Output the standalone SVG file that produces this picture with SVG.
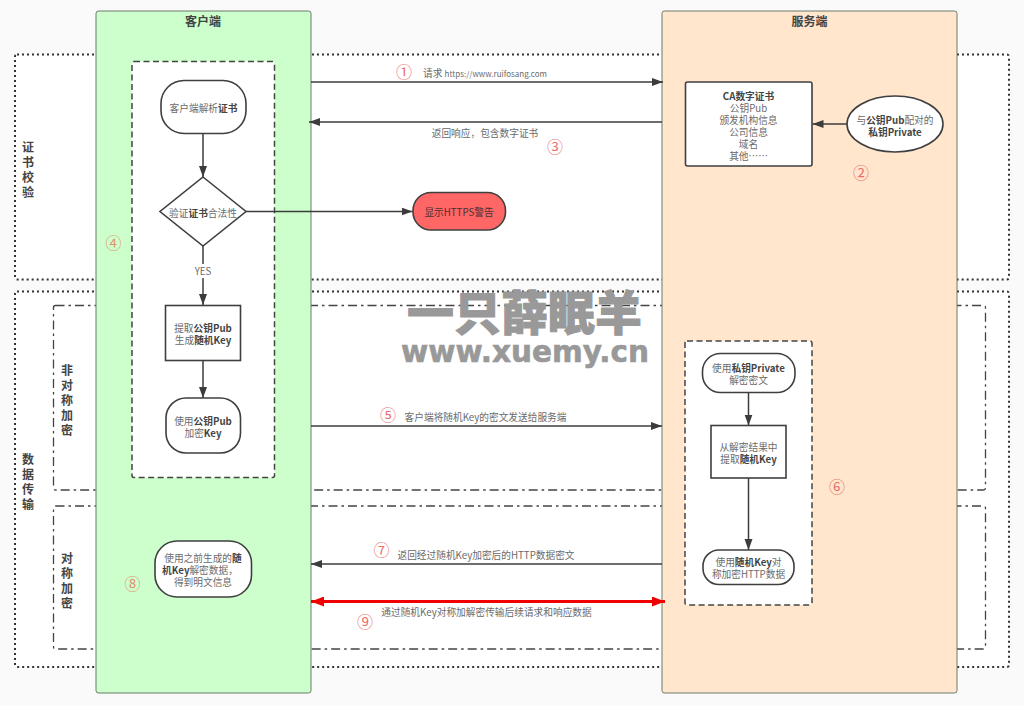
<svg xmlns="http://www.w3.org/2000/svg" width="1024" height="706" viewBox="0 0 1024 706">
<style>
text{font-family:"Noto Sans CJK SC","Noto Sans",sans-serif;font-size:9.7px;fill:#6a6a6a;text-anchor:middle;dominant-baseline:central}
tspan.b,text.b{font-weight:700;fill:#444}
tspan.u{font-size:8px}
text.v{font-size:12px;font-weight:700;fill:#444}
text.t{font-size:12px;font-weight:700;fill:#444}
text.n{font-size:16px;fill:#ea7070}
text.g{fill:#e2906f}
text.d{fill:#4a3030}
.dot{fill:#fff;stroke:#333;stroke-width:2;stroke-dasharray:2 3}
.dd{fill:none;stroke:#444;stroke-width:1.3;stroke-dasharray:9 4 2.5 4}
.lane{stroke:#6d7a6d;stroke-width:1}
.box{fill:#fff;stroke:#3f3f3f;stroke-width:1.6}
.warn{fill:#ff6666}
.dash{fill:#fff;stroke:#444;stroke-width:1.5;stroke-dasharray:6 3.5}
.c{fill:none;stroke:#3c3c3c;stroke-width:1.5;marker-end:url(#a)}
.r{fill:none;stroke:#f00000;stroke-width:3;marker-start:url(#rs);marker-end:url(#re)}
text.w1{font-size:47px;font-weight:900;fill:#999;stroke:#999;stroke-width:1}
text.w2{font-family:"DejaVu Sans",sans-serif;font-size:29.500px;font-weight:700;fill:#999;stroke:#999;stroke-width:.6}
</style>
<defs>
<marker id="a" markerUnits="userSpaceOnUse" markerWidth="12" markerHeight="9" refX="11" refY="4" orient="auto"><path d="M0 0L11 4L0 8z" fill="#3c3c3c"/></marker>
<marker id="re" markerUnits="userSpaceOnUse" markerWidth="14" markerHeight="10" refX="13" refY="5" orient="auto"><path d="M0 0L13 5L0 10z" fill="#f00000"/></marker>
<marker id="rs" markerUnits="userSpaceOnUse" markerWidth="14" markerHeight="10" refX="0" refY="5" orient="auto"><path d="M13 0L0 5L13 10z" fill="#f00000"/></marker>
</defs>
<rect width="1024" height="706" fill="#fafafa"/>
<g id="regions">
<rect class="dot" x="15" y="54.500" width="994" height="225" rx="2"/>
<rect class="dot" x="15" y="291.500" width="994" height="375.500" rx="2"/>
<rect class="dd" x="53.500" y="305.500" width="932" height="184.500" rx="2"/>
<rect class="dd" x="53.500" y="506" width="932" height="143" rx="2"/>
<text class="v" x="28" y="146">证</text><text class="v" x="28" y="161">书</text><text class="v" x="28" y="176">校</text><text class="v" x="28" y="191">验</text>
<text class="v" x="28" y="458">数</text><text class="v" x="28" y="473">据</text><text class="v" x="28" y="488">传</text><text class="v" x="28" y="503">输</text>
<text class="v" x="67" y="369">非</text><text class="v" x="67" y="384">对</text><text class="v" x="67" y="399">称</text><text class="v" x="67" y="414">加</text><text class="v" x="67" y="429">密</text>
<text class="v" x="67" y="557">对</text><text class="v" x="67" y="572">称</text><text class="v" x="67" y="587">加</text><text class="v" x="67" y="602">密</text>
</g>
<g id="lane-client"><rect class="lane" x="96" y="11" width="215" height="682" rx="2.500" fill="#ccffcc"/><text class="t" x="203" y="20">客户端</text></g>
<g id="lane-server"><rect class="lane" x="662" y="11" width="295" height="682" rx="2.500" fill="#ffe6cc" stroke="#7a6a5a"/><text class="t" x="809.500" y="20">服务端</text></g>
<g id="group-client"><rect class="dash" x="132" y="61.500" width="142.500" height="416" rx="2"/></g>
<g id="group-server"><rect class="dash" x="685" y="341" width="127" height="264" rx="2"/></g>
<g id="connectors">
<path class="c" d="M311 82H663"/>
<path class="c" d="M662 122H309"/>
<path class="c" d="M203 133V177"/>
<path class="c" d="M246 211.500H412.500"/>
<path class="c" d="M203 246V305"/>
<path class="c" d="M203 360V398"/>
<path class="c" d="M847 124H812.500"/>
<path class="c" d="M311 426H662"/>
<path class="c" d="M748.500 392.500V425.500"/>
<path class="c" d="M748.500 478V550"/>
<path class="c" d="M662 564H311"/>
<path class="r" d="M311 601.500H665"/>
</g>
<g id="node-parse"><rect class="box" x="161" y="80.500" width="85" height="53" rx="23"/><text x="203.500" y="108">客户端解析<tspan class="b">证书</tspan></text></g>
<g id="node-verify"><path class="box" d="M203 177L246 211.500L203 246L160 211.500z"/><text x="203" y="212.500">验证<tspan class="b">证书</tspan>合法性</text></g>
<g id="label-yes"><rect x="190" y="264" width="26" height="14" fill="#fff"/><text x="203" y="271">YES</text></g>
<g id="node-extract"><rect class="box" x="165.500" y="305.500" width="75" height="55"/><text x="203" y="328">提取<tspan class="b">公钥Pub</tspan></text><text x="203" y="340">生成<tspan class="b">随机Key</tspan></text></g>
<g id="node-encrypt"><rect class="box" x="166" y="398" width="74.500" height="55" rx="20"/><text x="203" y="421">使用<tspan class="b">公钥Pub</tspan></text><text x="203" y="433">加密<tspan class="b">Key</tspan></text></g>
<g id="node-warning"><rect class="box warn" x="413" y="192.500" width="92.500" height="37.500" rx="18" style="fill:#ff6666"/><text class="d" x="459" y="212">显示HTTPS警告</text></g>
<g id="node-cert"><rect class="box" x="685.500" y="82" width="126.500" height="84" rx="2"/><text class="b" x="748.500" y="95.500">CA数字证书</text><text x="748.500" y="107.500">公钥Pub</text><text x="748.500" y="119.500">颁发机构信息</text><text x="748.500" y="131.500">公司信息</text><text x="748.500" y="143.500">域名</text><text x="748.500" y="155.500">其他……</text></g>
<g id="node-private"><ellipse class="box" cx="895" cy="124" rx="48" ry="28"/><text x="895" y="119.500">与<tspan class="b">公钥Pub</tspan>配对的</text><text class="b" x="895" y="131.500">私钥Private</text></g>
<g id="node-decrypt"><rect class="box" x="702.500" y="353.500" width="92.500" height="39" rx="18"/><text x="748.500" y="368">使用<tspan class="b">私钥Private</tspan></text><text x="748.500" y="380">解密密文</text></g>
<g id="node-getkey"><rect class="box" x="711" y="425.500" width="75" height="52.500"/><text x="748.500" y="447">从解密结果中</text><text x="748.500" y="459">提取<tspan class="b">随机Key</tspan></text></g>
<g id="node-encdata"><rect class="box" x="703" y="550" width="91" height="34.500" rx="16"/><text x="748.500" y="562">使用<tspan class="b">随机Key</tspan>对</text><text x="748.500" y="574">称加密HTTP数据</text></g>
<g id="node-clientdec"><rect class="box" x="155" y="541" width="96.500" height="56" rx="22"/><text x="203" y="558">使用之前生成的<tspan class="b">随</tspan></text><text x="200" y="570"><tspan class="b">机Key</tspan>解密数据，</text><text x="203" y="582">得到明文信息</text></g>
<g id="labels">
<text x="485" y="73">请求 <tspan class="u">https://www.ruifosang.com</tspan></text>
<text x="485" y="132.500">返回响应，包含数字证书</text>
<text x="485.500" y="417">客户端将随机Key的密文发送给服务端</text>
<text x="486" y="554.500">返回经过随机Key加密后的HTTP数据密文</text>
<text x="486.500" y="612">通过随机Key对称加解密传输后续请求和响应数据</text>
<text class="n" x="404" y="71">①</text>
<text class="n" x="861" y="172">②</text>
<text class="n" x="555" y="146">③</text>
<text class="n g" x="113.500" y="242">④</text>
<text class="n" x="388" y="414">⑤</text>
<text class="n" x="837" y="486">⑥</text>
<text class="n" x="381.500" y="549">⑦</text>
<text class="n g" x="132.500" y="583">⑧</text>
<text class="n" x="365" y="621">⑨</text>
</g>
<g id="watermark">
<text class="w1" x="524.500" y="309">一只薛眠羊</text>
<text class="w2" x="525" y="352">www.xuemy.cn</text>
</g>
</svg>
